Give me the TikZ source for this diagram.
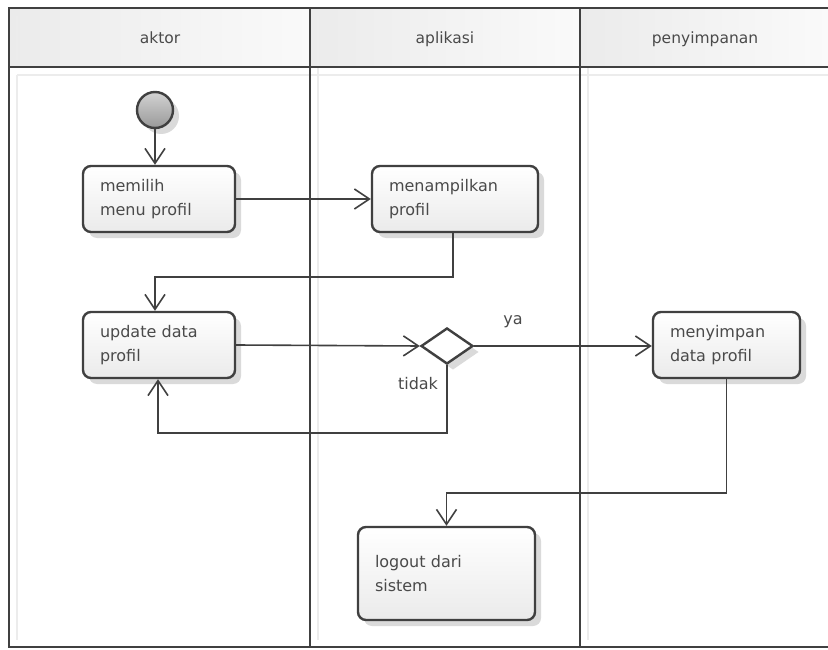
\documentclass[tikz,border=0pt]{standalone}
\usepackage{fontspec}
\setmainfont{DejaVu Sans}
\usetikzlibrary{arrows.meta,shapes.geometric,shadows}
\definecolor{ln}{HTML}{404040}
\definecolor{tx}{HTML}{4A4A4A}
\definecolor{hd}{HTML}{EBEBEB}
\definecolor{sh}{HTML}{DADADA}
\tikzset{
  act/.style={rectangle, rounded corners=8pt, draw=ln, line width=2.4pt,
    top color=white, bottom color=gray!16, text=tx, align=left,
    inner sep=0pt, minimum height=66pt,
    font=\fontsize{16}{24}\selectfont,
    drop shadow={shadow xshift=6pt, shadow yshift=-6pt, fill=sh, opacity=1}},
  flow/.style={draw=ln, line width=1.6pt, -{Straight Barb[length=15pt,width=20pt,line width=1.6pt]}},
  faint/.style={draw=gray!15, line width=1.6pt},
  lane/.style={draw=ln, line width=2.6pt},
  lbl/.style={text=tx, font=\fontsize{16}{20}\selectfont},
  hdr/.style={text=tx, font=\fontsize{15.5}{18}\selectfont, anchor=base}
}
\begin{document}
\begin{tikzpicture}[x=1pt,y=-1pt]
\useasboundingbox (0,0) rectangle (828,650);
\fill[white] (0,0) rectangle (828,650);
% header fill
\shade[left color=hd, right color=white!96!gray] (9,8) rectangle (310,67);
\shade[left color=hd, right color=white!96!gray] (310,8) rectangle (580,67);
\shade[left color=hd, right color=white!96!gray] (580,8) rectangle (828,67);
% faint lane shadows
\draw[faint] (17,75) -- (17,640);
\draw[faint] (318,16) -- (318,640);
\draw[faint] (588,16) -- (588,640);
\draw[faint] (17,75) -- (828,75);
\draw[faint] (17,16) -- (17,60);
% lanes
\draw[lane] (828,8) -- (9,8) -- (9,647) -- (828,647);
\draw[lane] (9,67) -- (828,67);
\draw[lane] (310,8) -- (310,647);
\draw[lane] (580,8) -- (580,647);
\node[hdr] (h1) at (160,44) {aktor};
\node[hdr] (h2) at (445,44) {aplikasi};
\node[hdr] (h3) at (705,44) {penyimpanan};
% nodes
\node[circle, draw=ln, line width=2.4pt, minimum size=36pt, inner sep=0pt,
  top color=gray!35, bottom color=gray!80,
  drop shadow={shadow xshift=6pt, shadow yshift=-6pt, fill=sh, opacity=1}] (s) at (155,110) {};
\node[act, minimum width=152pt, text width=118pt] (m1) at (159,199) {memilih\\menu profil};
\node[act, minimum width=166pt, text width=132pt] (m2) at (455,199) {menampilkan\\profil};
\node[act, minimum width=152pt, text width=118pt] (m3) at (159,345) {update data\\profil};
\node[diamond, draw=ln, line width=2.4pt, fill=white, minimum width=52pt, minimum height=36pt,
  inner sep=0pt, aspect=1.45,
  drop shadow={shadow xshift=6pt, shadow yshift=-6pt, fill=sh, opacity=1}] (d) at (447,346) {};
\node[act, minimum width=147pt, text width=113pt] (m4) at (726.5,345) {menyimpan\\data profil};
\node[act, minimum width=177pt, minimum height=93pt, text width=143pt] (l) at (446.5,573.5) {logout dari\\sistem};
% connectors
\draw[flow] (s.south) -- (s.south |- m1.north);
\draw[flow] (m1.east) -- (m2.west);
\draw[flow] ([xshift=-2pt]m2.south) -- ++(0,44) -| ([xshift=-4pt]m3.north);
\draw[flow] (m3.east) -- (d.west);
\draw[flow] (d.east) -- (d.east -| m4.west);
\draw[flow] (d.south) -- ++(0,68) -| ([xshift=-1pt]m3.south);
\draw[flow] (m4.south) -- ++(0,114) -| (l.north);
\node[lbl] (ya) at (513,322) {ya};
\node[lbl] (td) at (418,384) {tidak};
\end{tikzpicture}
\end{document}
